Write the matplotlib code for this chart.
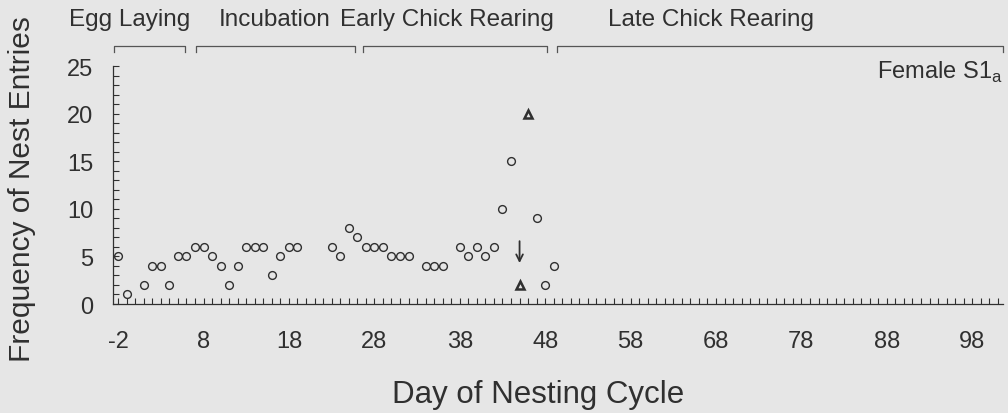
import matplotlib
matplotlib.use("Agg")
import matplotlib.pyplot as plt
from matplotlib.ticker import MultipleLocator, FixedLocator
import matplotlib.transforms as mtransforms

# ---- data ----
circle_days = [-2, -1, 1, 2, 3, 4, 5, 6, 7, 8, 9, 10, 11, 12, 13, 14, 15, 16, 17, 18, 19,
               23, 24, 25, 26, 27, 28, 29, 30, 31, 32, 34, 35, 36, 38, 39, 40, 41, 42,
               43, 44, 47, 48, 49]
circle_vals = [5, 1, 2, 4, 4, 2, 5, 5, 6, 6, 5, 4, 2, 4, 6, 6, 6, 3, 5, 6, 6,
               6, 5, 8, 7, 6, 6, 6, 5, 5, 5, 4, 4, 4, 6, 5, 6, 5, 6,
               10, 15, 9, 2, 4]
triangle_days = [45, 46]
triangle_vals = [2, 20]
arrow_day = 45
arrow_from, arrow_to = 6.6, 4.3

phase_names = ["Egg Laying", "Incubation", "Early Chick Rearing", "Late Chick Rearing"]
phase_starts = [-2.45, 7.1, 26.7, 49.4]
phase_ends = [5.85, 25.75, 48.2, 101.6]
phase_label_x = [-0.6, 16.3, 36.5, 67.4]

x_ticks = [-2, 8, 18, 28, 38, 48, 58, 68, 78, 88, 98]
y_ticks = [0, 5, 10, 15, 20, 25]

bg = "#e6e6e6"
ink = "#303030"

plt.rcParams['font.family'] = ['Liberation Sans', 'DejaVu Sans']
plt.rcParams['axes.unicode_minus'] = False

fig = plt.figure(figsize=(10.08, 4.14), dpi=100, facecolor=bg)
ax = fig.add_axes([113 / 1008, 1 - 305 / 414, 890 / 1008, 238 / 414])
ax.set_facecolor(bg)

ax.plot(circle_days, circle_vals, linestyle='none', marker='o', markersize=5.6,
        markerfacecolor='none', markeredgecolor=ink, markeredgewidth=1.0, clip_on=False)
ax.plot(triangle_days, triangle_vals, linestyle='none', marker='^', markersize=5.5,
        markerfacecolor='none', markeredgecolor=ink, markeredgewidth=1.8, clip_on=False)
ax.annotate('', xy=(arrow_day, arrow_to), xytext=(arrow_day, arrow_from),
            arrowprops=dict(arrowstyle='->', lw=1.3, color=ink,
                            mutation_scale=12, shrinkA=0, shrinkB=0))

ax.set_xlim(-2.6, 101.6)
ax.set_ylim(0, 25)
ax.xaxis.set_major_locator(FixedLocator(x_ticks))
ax.xaxis.set_minor_locator(MultipleLocator(1))
ax.yaxis.set_major_locator(FixedLocator(y_ticks))
ax.yaxis.set_minor_locator(MultipleLocator(1))

for s in ['top', 'right']:
    ax.spines[s].set_visible(False)
for s in ['left', 'bottom']:
    ax.spines[s].set_color(ink)
    ax.spines[s].set_linewidth(0.9)

ax.tick_params(axis='both', which='both', direction='in', color=ink, width=0.8)
ax.tick_params(axis='both', which='major', length=4.5, labelsize=17, labelcolor=ink)
ax.tick_params(axis='both', which='minor', length=4)
ax.tick_params(axis='x', which='major', pad=19)
ax.tick_params(axis='y', which='major', pad=14)

ax.set_xlabel("Day of Nesting Cycle", fontsize=22.5, color=ink)
ax.xaxis.set_label_coords(0.478, -0.378)
ax.xaxis.label.set_va('center')
ax.set_ylabel("Frequency of Nest Entries", fontsize=21.5, color=ink)
ax.yaxis.set_label_coords(-0.102, 0.487)
ax.yaxis.label.set_va('center')

# phase brackets
trans = mtransforms.blended_transform_factory(ax.transData, ax.transAxes)
yb, yt = 1.059, 1.084
for s, e in zip(phase_starts, phase_ends):
    ax.plot([s, s, e, e], [yb, yt, yt, yb], transform=trans, color='#555555',
            lw=0.9, clip_on=False)
for name, xc in zip(phase_names, phase_label_x):
    ax.text(xc, 1.197, name, transform=trans, ha='center', va='center',
            fontsize=17.5, color=ink)

ax.text(0.9995, 0.978, r"Female S1$_{\mathregular{a}}$", transform=ax.transAxes,
        ha='right', va='center', fontsize=17, color=ink)

fig.savefig("out.png", dpi=100, facecolor=bg)
